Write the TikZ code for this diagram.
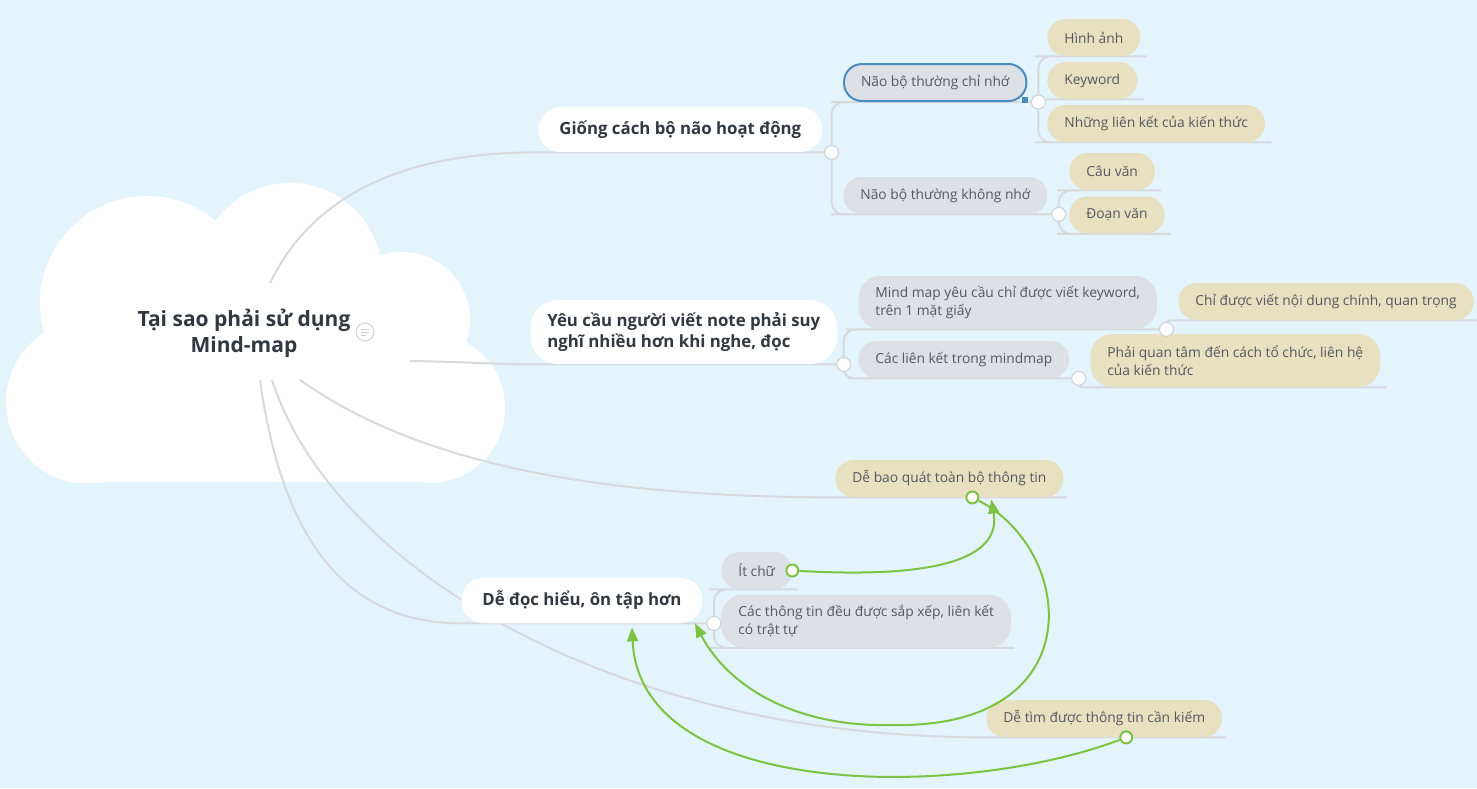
\documentclass[tikz,border=0pt]{standalone}
\usepackage{fontspec}
\setmainfont{Open Sans}
\usetikzlibrary{arrows.meta,calc,positioning}

\definecolor{paper}{RGB}{228,244,253}
\definecolor{subgray}{RGB}{221,225,230}
\definecolor{leaftan}{RGB}{231,224,193}
\definecolor{linkgray}{RGB}{214,218,223}
\definecolor{knobgray}{RGB}{208,212,217}
\definecolor{relgreen}{RGB}{125,194,66}
\definecolor{inktext}{RGB}{50,56,64}
\definecolor{subtext}{RGB}{85,89,95}
\definecolor{selblue}{RGB}{74,140,192}

\pgfdeclarelayer{paperlayer}
\pgfdeclarelayer{back}
\pgfsetlayers{paperlayer,back,main}

\tikzset{
  rootlabel/.style={align=center, text=inktext, font=\fontsize{10.5}{13}\selectfont\bfseries},
  mainbox/.style={rounded corners=11pt, fill=white, text=inktext, inner xsep=10.5pt,
    minimum height=22.5pt, align=left, font=\fontsize{8.4}{10.5}\selectfont\bfseries},
  subbox/.style={rounded corners=9pt, fill=subgray, text=subtext, inner xsep=8.5pt,
    minimum height=18.5pt, align=left, font=\fontsize{6.9}{9}\selectfont},
  leafbox/.style={subbox, fill=leaftan},
  twomain/.style={minimum height=32pt, rounded corners=14pt, inner xsep=8.5pt},
  twosub/.style={minimum height=26.5pt, rounded corners=11pt},
  link/.style={draw=linkgray, line width=1pt},
  knob/.style={circle, fill=white, draw=knobgray, line width=0.6pt, minimum size=7pt, inner sep=0pt},
  gknob/.style={circle, fill=white, draw=relgreen, line width=1pt, minimum size=6pt, inner sep=0pt},
  rel/.style={draw=relgreen, line width=1pt, -{Triangle[length=7pt,width=5.5pt]}},
  noteicon/.style={circle, fill=white, draw=knobgray, line width=0.5pt, minimum size=9pt, inner sep=0pt},
  handle/.style={fill=selblue, minimum size=3pt, inner sep=0pt}
}

\begin{document}
\begin{tikzpicture}[x=0.5pt,y=-0.5pt]
    \useasboundingbox (0,0) rectangle (1477,788);

    % Paper and cloud
    \begin{pgfonlayer}{paperlayer}
      \fill[paper] (0,0) rectangle (1477,788);
      \begin{scope}
        \clip (0,0) rectangle (1477,482);
        \fill[white] (88,402) circle (82) (147,303) circle (107) (290,275) circle (92)
          (402,320) circle (68) (430,408) circle (75);
        \fill[white] (88,300) rectangle (430,482);
      \end{scope}
    \end{pgfonlayer}

    % Central topic
    \node[rootlabel] (root) at (244,333) {Tại sao phải sử dụng\\Mind-map};
    \node[noteicon] (note) at (365,332) {};
    \draw[knobgray, line width=0.5pt] ($(note.center)+(-4,-3)$) -- ++(8,0)
      ($(note.center)+(-4,0)$) -- ++(8,0) ($(note.center)+(-4,3)$) -- ++(5,0);
    \coordinate (r1) at (270,283);
    \coordinate (r2) at (410,361);
    \coordinate (r3) at (300,380);
    \coordinate (r4) at (260,380);
    \coordinate (r5) at (272,380);

    % Main topics
    \node[mainbox, anchor=west] (brain) at (538,129.5) {Giống cách bộ não hoạt động};
    \node[mainbox, twomain, anchor=west] (think) at (530,332) {Yêu cầu người viết note phải suy\\nghĩ nhiều hơn khi nghe, đọc};
    \node[leafbox, anchor=west] (overview) at (835,478.5) {Dễ bao quát toàn bộ thông tin};
    \node[mainbox, anchor=west] (easy) at (461,600.5) {Dễ đọc hiểu, ôn tập hơn};
    \node[leafbox, anchor=west] (search) at (986,718.5) {Dễ tìm được thông tin cần kiếm};

    % Subtopics
    \node[subbox, anchor=west, draw=selblue, line width=1pt] (remember) at (843,82.5) {Não bộ thường chỉ nhớ};
    \node[handle] at ($(remember.south east)+(-2,-2)$) {};
    \node[subbox, anchor=west] (forget) at (843,195.5) {Não bộ thường không nhớ};
    \node[leafbox, anchor=west] (image) at (1047,37.5) {Hình ảnh};
    \node[leafbox, anchor=west] (keyword) at (1047,80.5) {Keyword};
    \node[leafbox, anchor=west] (links) at (1047,123.5) {Những liên kết của kiến thức};
    \node[leafbox, anchor=west] (sentence) at (1069,171.5) {Câu văn};
    \node[leafbox, anchor=west] (paragraph) at (1069,215) {Đoạn văn};

    \node[subbox, twosub, anchor=west] (onlykey) at (858,302.5) {Mind map yêu cầu chỉ được viết keyword,\\trên 1 mặt giấy};
    \node[subbox, anchor=west] (linksmap) at (858,359.5) {Các liên kết trong mindmap};
    \node[leafbox, anchor=west] (mainonly) at (1178,301.5) {Chỉ được viết nội dung chính, quan trọng};
    \node[leafbox, twosub, anchor=west] (organise) at (1090,360.5) {Phải quan tâm đến cách tổ chức, liên hệ\\của kiến thức};

    \node[subbox, anchor=west] (fewwords) at (721,570.5) {Ít chữ};
    \node[subbox, twosub, anchor=west] (ordered) at (721,621) {Các thông tin đều được sắp xếp, liên kết\\có trật tự};

    % Knobs
    \node[knob] (brainK) at ($(brain.south east)+(9,0)$) {};
    \node[knob] (rememberK) at ($(remember.south east)+(11,0)$) {};
    \node[knob] (forgetK) at ($(forget.south east)+(11,0)$) {};
    \node[knob] (thinkK) at ($(think.south east)+(6,0)$) {};
    \node[knob] (onlykeyK) at ($(onlykey.south east)+(9,0)$) {};
    \node[knob] (linksmapK) at ($(linksmap.south east)+(9,0)$) {};
    \node[knob] (easyK) at ($(easy.south east)+(11,0)$) {};
    \node[gknob] (overviewG) at ($(overview.south)+(23,0)$) {};
    \node[gknob] (fewwordsG) at (fewwords.south east |- fewwords.east) {};
    \node[gknob] (searchG) at ($(search.south)+(22,0)$) {};

    % Branch lines
    \begin{pgfonlayer}{back}
      \draw[link] (r1) .. controls (320,180) and (430,152) .. (brain.south west) -- (brainK);
      \draw[link] (r2) .. controls (470,362) and (490,364) .. (think.south west) -- (thinkK);
      \draw[link] (r3) .. controls (420,465) and (600,497) .. (overview.south west) -- ($(overview.south east)+(3,0)$);
      \draw[link] (r4) .. controls (285,560) and (360,623) .. (easy.south west) -- (easyK);
      \draw[link] (r5) .. controls (330,560) and (600,737) .. (search.south west) -- ($(search.south east)+(3,0)$);

      \draw[link, rounded corners=6pt] (brainK) |- (remember.south west) -- (rememberK);
      \draw[link, rounded corners=6pt] (brainK) |- (forget.south west) -- (forgetK);
      \draw[link, rounded corners=6pt] (rememberK) |- (image.south west) -- ($(image.south east)+(6,0)$);
      \draw[link] (rememberK) -- (keyword.south west) -- ($(keyword.south east)+(6,0)$);
      \draw[link, rounded corners=6pt] (rememberK) |- (links.south west) -- ($(links.south east)+(6,0)$);
      \draw[link, rounded corners=6pt] (forgetK) |- (sentence.south west) -- ($(sentence.south east)+(6,0)$);
      \draw[link, rounded corners=6pt] (forgetK) |- (paragraph.south west) -- ($(paragraph.south east)+(6,0)$);

      \draw[link, rounded corners=6pt] (thinkK) |- (onlykey.south west) -- (onlykeyK);
      \draw[link, rounded corners=5pt] (thinkK) |- (linksmap.south west) -- (linksmapK);
      \draw[link, rounded corners=2pt] (onlykeyK) |- (mainonly.south west) -- ($(mainonly.south east)+(6,0)$);
      \draw[link, rounded corners=2pt] (linksmapK) |- (organise.south west) -- ($(organise.south east)+(6,0)$);

      \draw[link, rounded corners=6pt] (easyK) |- (fewwords.south west) -- ($(fewwords.south east)+(6,0)$);
      \draw[link, rounded corners=6pt] (easyK) |- (ordered.south west) -- ($(ordered.south east)+(3,0)$);
    \end{pgfonlayer}

    % Relationships
    \draw[rel] (fewwordsG) .. controls (960,580) and (1000,550) .. ($(overview.south)+(42,2)$);
    \draw[rel] (overviewG) .. controls (1075,550) and (1095,730) .. (890,725)
      .. controls (800,727) and (730,690) .. ($(easy.south east)+(-8,0)$);
    \draw[rel] (searchG) .. controls (960,800) and (640,800) .. ($(easy.south)+(50,4)$);
\end{tikzpicture}
\end{document}
